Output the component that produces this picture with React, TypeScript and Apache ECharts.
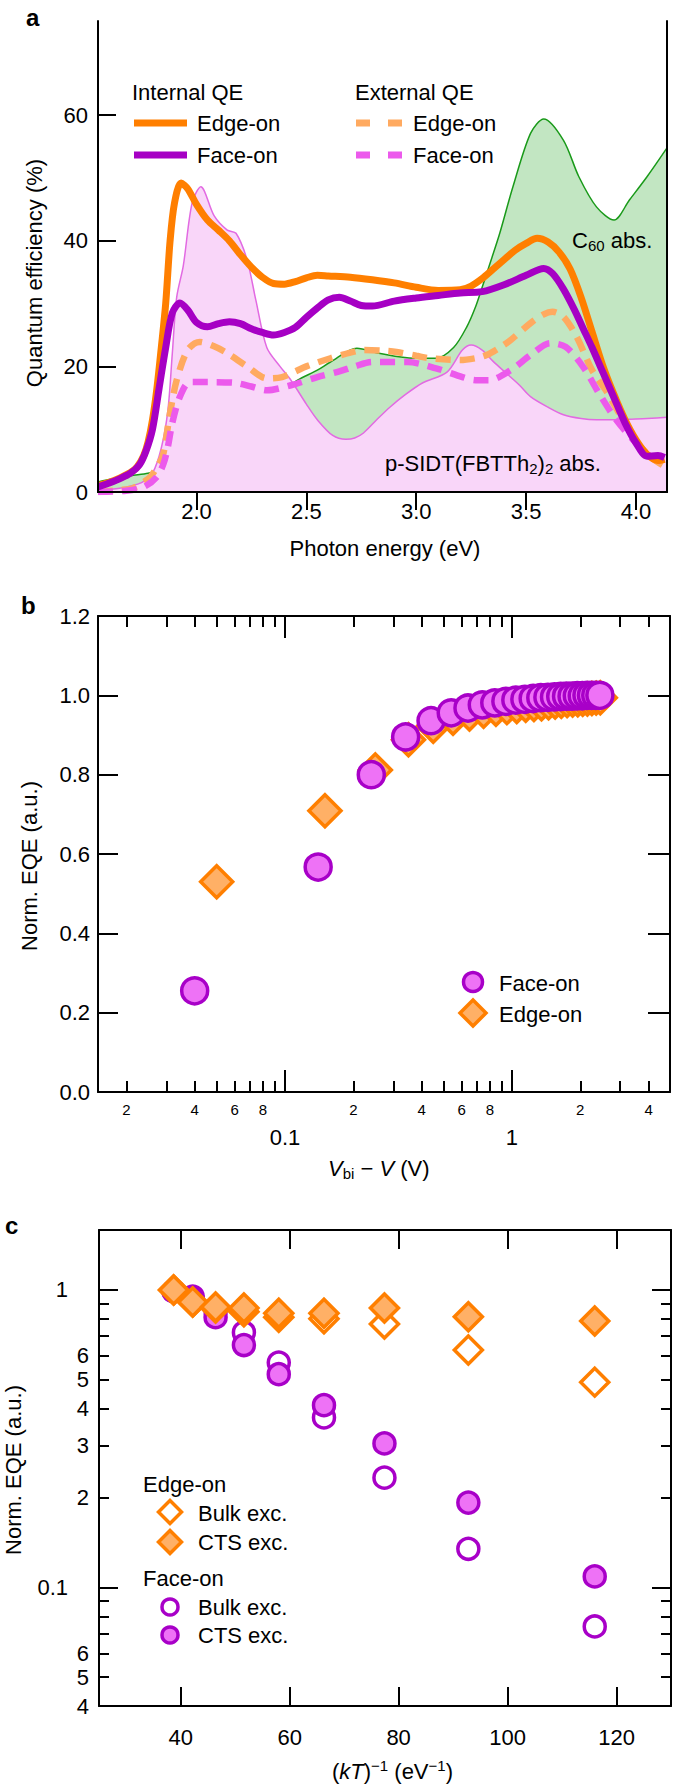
import React, { useEffect, useRef } from 'react';
import * as echarts from 'echarts';

const FONT = 'Liberation Sans, Arial, Helvetica, sans-serif';

// ---------------- Panel a : quantum efficiency vs photon energy ----------------
const energyTicks = [2.0, 2.5, 3.0, 3.5, 4.0];
const qeTicks = [0, 20, 40, 60];

const internalEdgeOn = [[1.552,1.0],[1.6,1.5],[1.65,2.2],[1.7,3.1],[1.73,4.0],[1.76,5.8],[1.78,8],[1.8,11.5],[1.82,16.5],[1.84,23],[1.86,30],[1.88,40],[1.9,46],[1.93,49.2],[1.96,48.3],[2.0,45.8],[2.05,43.3],[2.1,41.7],[2.15,40],[2.2,37.8],[2.25,35.8],[2.3,34.2],[2.35,33.2],[2.4,33.1],[2.45,33.5],[2.5,34.1],[2.55,34.5],[2.6,34.4],[2.7,34.2],[2.8,33.8],[2.9,33.3],[3.0,32.6],[3.1,32.1],[3.2,32.2],[3.25,32.8],[3.3,34],[3.35,35.5],[3.4,37],[3.45,38.5],[3.5,39.6],[3.55,40.4],[3.6,39.8],[3.65,38.2],[3.7,35.5],[3.75,31],[3.8,25.5],[3.85,20],[3.9,15.5],[3.95,11.5],[4.0,8.3],[4.05,6],[4.1,5],[4.13,5.2]];

const internalFaceOn = [[1.552,0.8],[1.6,1.4],[1.65,2.1],[1.7,3],[1.74,4.3],[1.77,6.5],[1.8,10],[1.83,16.5],[1.86,23],[1.89,28.5],[1.925,30.1],[1.96,29],[2.0,27],[2.05,26.3],[2.1,26.8],[2.15,27.1],[2.2,26.8],[2.25,26],[2.3,25.4],[2.35,25],[2.4,25.4],[2.45,26.2],[2.5,27.8],[2.55,29.3],[2.6,30.6],[2.65,31],[2.7,30.4],[2.75,29.7],[2.8,29.6],[2.9,30.4],[3.0,30.9],[3.1,31.3],[3.2,31.7],[3.3,31.9],[3.4,33],[3.5,34.5],[3.58,35.6],[3.62,34.8],[3.67,32.3],[3.72,29],[3.76,26],[3.8,23],[3.85,19],[3.9,15],[3.95,11],[4.0,7.8],[4.05,5.7],[4.1,5.8],[4.13,5.5]];

const externalEdgeOn = [[1.552,0],[1.65,0.3],[1.71,0.6],[1.76,1.6],[1.79,2.4],[1.83,4.5],[1.85,6.2],[1.88,12.6],[1.91,17.8],[1.96,22.6],[2.015,23.9],[2.08,23.2],[2.14,22.1],[2.23,20],[2.32,18.1],[2.39,18.3],[2.45,19.2],[2.5,20],[2.61,21.3],[2.7,22.2],[2.76,22.6],[2.85,22.5],[2.91,22.3],[3.0,21.7],[3.06,21.3],[3.2,21],[3.27,21.3],[3.32,21.8],[3.38,23],[3.43,24.2],[3.52,26.9],[3.58,28.3],[3.62,28.7],[3.67,27.9],[3.73,24.7],[3.8,19.4],[3.87,15.8],[3.94,11.5],[4.02,7.2],[4.08,5.2],[4.12,4.3]];

const externalFaceOn = [[1.552,0],[1.68,0.2],[1.76,0.8],[1.82,2.4],[1.85,4.5],[1.87,7.2],[1.89,11],[1.925,15.2],[1.97,17.5],[2.05,17.5],[2.17,17.4],[2.25,16.8],[2.32,16.2],[2.43,17],[2.55,18.3],[2.65,19.2],[2.72,20],[2.8,20.7],[2.96,20.7],[3.09,19.7],[3.21,18.3],[3.27,17.8],[3.33,17.8],[3.43,19.4],[3.52,21.8],[3.61,23.7],[3.68,23.1],[3.76,19.9],[3.83,15.8],[3.91,11.5],[4.0,7.8],[4.06,5.8],[4.12,4.8]];

const donorAbs = [[1.552,0.3],[1.65,0.6],[1.75,1.5],[1.8,3],[1.84,7],[1.87,13],[1.89,22],[1.91,31],[1.94,36],[1.98,46],[2.02,48.6],[2.08,44],[2.14,41.7],[2.18,41.2],[2.23,37],[2.27,30.6],[2.32,23],[2.38,20],[2.43,17.8],[2.5,14],[2.55,11.5],[2.62,9],[2.68,8.4],[2.72,8.6],[2.76,9.4],[2.82,11.5],[2.88,13.5],[2.95,15.5],[3.03,17.4],[3.14,19.1],[3.21,22.6],[3.25,23.4],[3.3,22.6],[3.35,20.8],[3.41,18.9],[3.47,17],[3.52,15.2],[3.6,13.5],[3.67,12.3],[3.75,11.7],[3.82,11.5],[3.9,11.5],[3.97,11.6],[4.05,11.7],[4.141,11.9]];

const c60Abs = [[1.552,1.6],[1.62,2.1],[1.7,2.6],[1.78,3.0],[1.85,3.6],[1.92,5.2],[2.0,7],[2.2,11.5],[2.35,15.2],[2.46,17.8],[2.55,19.4],[2.61,20.7],[2.73,22.9],[2.83,22.1],[2.99,21.3],[3.09,21.3],[3.17,23],[3.23,26.3],[3.27,29.5],[3.3,32.6],[3.33,35.8],[3.38,41.2],[3.44,48.6],[3.52,57.1],[3.58,59.4],[3.67,56],[3.74,50.2],[3.82,45.4],[3.9,43.3],[3.97,46.5],[4.05,50.2],[4.141,54.8]];

// ---------------- Panel b : normalized EQE vs Vbi - V ----------------
const faceOnV = [0.04,0.14,0.24,0.34,0.44,0.54,0.64,0.74,0.84,0.94,1.04,1.14,1.24,1.34,1.44,1.54,1.64,1.74,1.84,1.94,2.04,2.14,2.24,2.34,2.44];
const faceOnEQE = [0.255,0.567,0.80,0.895,0.936,0.956,0.968,0.976,0.981,0.985,0.988,0.990,0.992,0.994,0.995,0.996,0.997,0.998,0.998,0.999,0.999,1.0,1.0,1.0,1.0];
const edgeOnV = [0.05,0.15,0.25,0.35,0.45,0.55,0.65,0.75,0.85,0.95,1.05,1.15,1.25,1.35,1.45,1.55,1.65,1.75,1.85,1.95,2.05,2.15,2.25,2.35,2.45];
const edgeOnEQE = [0.53,0.709,0.812,0.888,0.922,0.942,0.953,0.96,0.965,0.969,0.972,0.975,0.977,0.979,0.981,0.983,0.985,0.987,0.988,0.989,0.990,0.991,0.992,0.993,0.994];
const bMinorTicks = [0.02,0.03,0.04,0.05,0.06,0.07,0.08,0.09,0.2,0.3,0.4,0.5,0.6,0.7,0.8,0.9,2,3,4];
const bMinorLabels = [0.02,0.04,0.06,0.08,0.2,0.4,0.6,0.8,2,4];
const bMajorTicks = [0.1, 1];
const bEqeTicks = [0, 0.2, 0.4, 0.6, 0.8, 1.0, 1.2];

// ---------------- Panel c : normalized EQE vs (kT)^-1 ----------------
const invKT = [38.7, 42.2, 46.4, 51.6, 58.0, 66.3, 77.4, 92.8, 116.0];
const edgeBulk = [1.0, 0.91, 0.87, 0.845, 0.81, 0.80, 0.768, 0.628, 0.49];
const edgeCTS = [1.0, 0.911, 0.877, 0.87, 0.835, 0.835, 0.87, 0.813, 0.787];
const faceBulk = [0.99, 0.95, 0.85, 0.72, 0.57, 0.373, 0.234, 0.135, 0.074];
const faceCTS = [0.99, 0.93, 0.81, 0.653, 0.521, 0.41, 0.305, 0.193, 0.109];
const kTTicks = [40, 60, 80, 100, 120];
const cMinorTicks = [0.05,0.06,0.07,0.08,0.09,0.2,0.3,0.4,0.5,0.6,0.7,0.8,0.9];
const cMinorLabels = [0.04,0.05,0.06,0.2,0.3,0.4,0.5,0.6];
const cMajorTicks = [0.1, 1];

// ---------------- colours ----------------
const ORANGE = '#FF7F00';
const PURPLE = '#A600C4';
const ORANGE_LIGHT = '#FFAA60';
const MAGENTA = '#EC5AEC';
const PINK_FILL = '#F9D6F9';
const PINK_LINE = '#E26AE2';
const GREEN_FILL = '#C2E6C2';
const GREEN_LINE = '#1A9A1A';
const CIRCLE_FILL = '#EE72F6';
const CIRCLE_EDGE = '#A800C8';
const DIAMOND_FILL = '#FFB066';

const axLine = { show: true, lineStyle: { color: '#000', width: 2 } };
const noLine = { show: false };
const tick = (len: number, vals?: number[]) => {
  const t: any = { show: true, inside: true, length: len, lineStyle: { color: '#000', width: 2 } };
  if (vals) t.customValues = vals;
  return t;
};
const lbl = (extra: any) => ({ color: '#000', fontSize: 22, fontFamily: FONT, showMinLabel: true, showMaxLabel: true, ...extra });
const noLbl = { show: false };
const noSplit = { show: false };
const leadDigit = (v: number) => String(Math.round(v / Math.pow(10, Math.floor(Math.log10(v) + 1e-9))));
const majorLbl = (v: number) => (v < 0.5 ? '0.1' : '1');

const txt = (x: number, y: number, text: string, extra: any = {}) => ({
  type: 'text', x, y, z: 100,
  style: { text, fontSize: 22, fontFamily: FONT, fill: '#000', align: 'left', textAlign: 'left', verticalAlign: 'middle', textVerticalAlign: 'middle', ...extra },
});
const rich = (x: number, y: number, text: string, extra: any = {}) => ({
  type: 'text', x, y, z: 100,
  style: {
    text, fill: '#000', align: 'left', textAlign: 'left', verticalAlign: 'middle', textVerticalAlign: 'middle',
    rich: {
      n: { fontSize: 22, fontFamily: FONT, lineHeight: 26, verticalAlign: 'middle', fill: '#000', color: '#000' },
      i: { fontSize: 22, fontFamily: FONT, fontStyle: 'italic', lineHeight: 26, verticalAlign: 'middle', fill: '#000', color: '#000' },
      sub: { fontSize: 15, fontFamily: FONT, lineHeight: 15, verticalAlign: 'bottom', fill: '#000', color: '#000' },
      sup: { fontSize: 15, fontFamily: FONT, lineHeight: 15, verticalAlign: 'top', fill: '#000', color: '#000' },
    },
    ...extra,
  },
});
const vtxt = (x: number, y: number, text: string) => ({
  type: 'text', x, y, z: 100, rotation: Math.PI / 2,
  style: { text, fontSize: 22, fontFamily: FONT, fill: '#000', align: 'center', textAlign: 'center', verticalAlign: 'middle', textVerticalAlign: 'middle' },
});
const legLine = (x1: number, x2: number, y: number, color: string, dash?: number[]) => ({
  type: 'line', z: 100, shape: { x1, y1: y, x2, y2: y },
  style: { stroke: color, lineWidth: 7, lineDash: dash || null, lineCap: 'butt' },
});
const legCircle = (cx: number, cy: number, r: number, fill: string) => ({
  type: 'circle', z: 100, shape: { cx, cy, r }, style: { fill, stroke: CIRCLE_EDGE, lineWidth: 3.5 },
});
const legDiamond = (cx: number, cy: number, h: number, fill: string) => ({
  type: 'polygon', z: 100, shape: { points: [[cx, cy - h], [cx + h, cy], [cx, cy + h], [cx - h, cy]] },
  style: { fill, stroke: ORANGE, lineWidth: 3.5, lineJoin: 'miter' },
});

const zip = (xs: number[], ys: number[]) => xs.map((x, i) => [x, ys[i]]);

const option: any = {
  animation: false,
  backgroundColor: '#fff',
  grid: [
    { left: 98, top: 21, width: 569, height: 471 },
    { left: 98, top: 616, width: 572, height: 476 },
    { left: 99, top: 1230, width: 572, height: 476 },
  ],
  xAxis: [
    { gridIndex: 0, type: 'value', position: 'bottom', min: 1.552, max: 4.141, z: 10, axisLine: axLine, axisTick: { show: false }, splitLine: noSplit,
      axisLabel: lbl({ customValues: energyTicks, formatter: (v: number) => v.toFixed(1), margin: 8 }) },
    { gridIndex: 0, type: 'value', position: 'top', min: 1.552, max: 4.141, z: 10, axisLine: axLine, axisTick: tick(18, energyTicks), axisLabel: noLbl, splitLine: noSplit },
    { gridIndex: 1, type: 'log', logBase: 10, position: 'bottom', min: 0.015, max: 4.97, z: 10, axisLine: axLine, axisTick: tick(11, bMinorTicks), splitLine: noSplit,
      axisLabel: lbl({ customValues: bMinorLabels, formatter: leadDigit, fontSize: 15, margin: 10 }) },
    { gridIndex: 1, type: 'log', logBase: 10, position: 'bottom', min: 0.015, max: 4.97, z: 10, axisLine: noLine, axisTick: tick(22, bMajorTicks), splitLine: noSplit,
      axisLabel: lbl({ customValues: bMajorTicks, formatter: majorLbl, margin: 34 }) },
    { gridIndex: 1, type: 'log', logBase: 10, position: 'top', min: 0.015, max: 4.97, z: 10, axisLine: axLine, axisTick: tick(11, bMinorTicks), axisLabel: noLbl, splitLine: noSplit },
    { gridIndex: 1, type: 'log', logBase: 10, position: 'top', min: 0.015, max: 4.97, z: 10, axisLine: noLine, axisTick: tick(22, bMajorTicks), axisLabel: noLbl, splitLine: noSplit },
    { gridIndex: 2, type: 'value', position: 'bottom', min: 25, max: 130, z: 10, axisLine: axLine, axisTick: tick(19, kTTicks), splitLine: noSplit,
      axisLabel: lbl({ customValues: kTTicks, margin: 20 }) },
    { gridIndex: 2, type: 'value', position: 'top', min: 25, max: 130, z: 10, axisLine: axLine, axisTick: tick(19, kTTicks), axisLabel: noLbl, splitLine: noSplit },
  ],
  yAxis: [
    { gridIndex: 0, type: 'value', position: 'left', min: 0, max: 75, z: 10, axisLine: axLine, axisTick: tick(18, qeTicks), splitLine: noSplit,
      axisLabel: lbl({ customValues: qeTicks, margin: 10 }) },
    { gridIndex: 0, type: 'value', position: 'right', min: 0, max: 75, z: 10, axisLine: axLine, axisTick: { show: false }, axisLabel: noLbl, splitLine: noSplit },
    { gridIndex: 1, type: 'value', position: 'left', min: 0, max: 1.2, z: 10, axisLine: axLine, axisTick: tick(20, bEqeTicks), splitLine: noSplit,
      axisLabel: lbl({ customValues: bEqeTicks, formatter: (v: number) => v.toFixed(1), margin: 8 }) },
    { gridIndex: 1, type: 'value', position: 'right', min: 0, max: 1.2, z: 10, axisLine: axLine, axisTick: tick(22, bEqeTicks), axisLabel: noLbl, splitLine: noSplit },
    { gridIndex: 2, type: 'log', logBase: 10, position: 'left', min: 0.04, max: 1.59, z: 10, axisLine: axLine, axisTick: tick(10, cMinorTicks), splitLine: noSplit,
      axisLabel: lbl({ customValues: cMinorLabels, formatter: leadDigit, margin: 10 }) },
    { gridIndex: 2, type: 'log', logBase: 10, position: 'left', min: 0.04, max: 1.59, z: 10, axisLine: noLine, axisTick: tick(19, cMajorTicks), splitLine: noSplit,
      axisLabel: lbl({ customValues: cMajorTicks, formatter: majorLbl, margin: 31 }) },
    { gridIndex: 2, type: 'log', logBase: 10, position: 'right', min: 0.04, max: 1.59, z: 10, axisLine: axLine, axisTick: tick(10, cMinorTicks), axisLabel: noLbl, splitLine: noSplit },
    { gridIndex: 2, type: 'log', logBase: 10, position: 'right', min: 0.04, max: 1.59, z: 10, axisLine: noLine, axisTick: tick(19, cMajorTicks), axisLabel: noLbl, splitLine: noSplit },
  ],
  series: [
    // panel a
    { name: 'C60 abs.', type: 'line', xAxisIndex: 0, yAxisIndex: 0, data: c60Abs, smooth: 0.3, symbol: 'none', z: 2,
      lineStyle: { color: GREEN_LINE, width: 1.5 }, areaStyle: { color: GREEN_FILL, opacity: 1 } },
    { name: 'p-SIDT abs.', type: 'line', xAxisIndex: 0, yAxisIndex: 0, data: donorAbs, smooth: 0.3, symbol: 'none', z: 3,
      lineStyle: { color: PINK_LINE, width: 1.5 }, areaStyle: { color: PINK_FILL, opacity: 1 } },
    { name: 'External Edge-on', type: 'line', xAxisIndex: 0, yAxisIndex: 0, data: externalEdgeOn, smooth: 0.3, symbol: 'none', z: 4,
      lineStyle: { color: ORANGE_LIGHT, width: 6.5, type: [15, 9], cap: 'butt' } },
    { name: 'External Face-on', type: 'line', xAxisIndex: 0, yAxisIndex: 0, data: externalFaceOn, smooth: 0.3, symbol: 'none', z: 5,
      lineStyle: { color: MAGENTA, width: 6.5, type: [15, 9], cap: 'butt' } },
    { name: 'Internal Edge-on', type: 'line', xAxisIndex: 0, yAxisIndex: 0, data: internalEdgeOn, smooth: 0.3, symbol: 'none', z: 6,
      lineStyle: { color: ORANGE, width: 7 } },
    { name: 'Internal Face-on', type: 'line', xAxisIndex: 0, yAxisIndex: 0, data: internalFaceOn, smooth: 0.3, symbol: 'none', z: 7,
      lineStyle: { color: PURPLE, width: 7 } },
    // panel b
    { name: 'Edge-on', type: 'scatter', xAxisIndex: 2, yAxisIndex: 2, data: zip(edgeOnV, edgeOnEQE), symbol: 'diamond', symbolSize: 32, z: 3,
      itemStyle: { color: DIAMOND_FILL, borderColor: ORANGE, borderWidth: 3.5, opacity: 1 } },
    { name: 'Face-on', type: 'scatter', xAxisIndex: 2, yAxisIndex: 2, data: zip(faceOnV, faceOnEQE), symbol: 'circle', symbolSize: 26, z: 4,
      itemStyle: { color: CIRCLE_FILL, borderColor: CIRCLE_EDGE, borderWidth: 3.5, opacity: 1 } },
    // panel c
    { name: 'Face-on Bulk exc.', type: 'scatter', xAxisIndex: 6, yAxisIndex: 4, data: zip(invKT, faceBulk), symbol: 'circle', symbolSize: 21, z: 3,
      itemStyle: { color: '#fff', borderColor: CIRCLE_EDGE, borderWidth: 3.5, opacity: 1 } },
    { name: 'Face-on CTS exc.', type: 'scatter', xAxisIndex: 6, yAxisIndex: 4, data: zip(invKT, faceCTS), symbol: 'circle', symbolSize: 21, z: 4,
      itemStyle: { color: CIRCLE_FILL, borderColor: CIRCLE_EDGE, borderWidth: 3.5, opacity: 1 } },
    { name: 'Edge-on Bulk exc.', type: 'scatter', xAxisIndex: 6, yAxisIndex: 4, data: zip(invKT, edgeBulk), symbol: 'diamond', symbolSize: 28, z: 5,
      itemStyle: { color: '#fff', borderColor: ORANGE, borderWidth: 3.5, opacity: 1 } },
    { name: 'Edge-on CTS exc.', type: 'scatter', xAxisIndex: 6, yAxisIndex: 4, data: zip(invKT, edgeCTS), symbol: 'diamond', symbolSize: 28, z: 6,
      itemStyle: { color: DIAMOND_FILL, borderColor: ORANGE, borderWidth: 3.5, opacity: 1 } },
  ],
  graphic: [
    // panel letters
    txt(26, 17, 'a', { fontWeight: 'bold', fontSize: 24 }),
    txt(21, 605, 'b', { fontWeight: 'bold', fontSize: 24 }),
    txt(5, 1225, 'c', { fontWeight: 'bold', fontSize: 24 }),
    // panel a axis names
    vtxt(34, 273, 'Quantum efficiency (%)'),
    txt(385, 548, 'Photon energy (eV)', { align: 'center', textAlign: 'center' }),
    // panel a legend
    txt(132, 92, 'Internal QE'),
    legLine(134, 187, 123, ORANGE),
    txt(197, 123, 'Edge-on'),
    legLine(134, 187, 155, PURPLE),
    txt(197, 155, 'Face-on'),
    txt(355, 92, 'External QE'),
    legLine(356, 402, 123, ORANGE_LIGHT, [14, 18]),
    txt(413, 123, 'Edge-on'),
    legLine(356, 402, 155, MAGENTA, [14, 18]),
    txt(413, 155, 'Face-on'),
    rich(572, 240, '{n|C}{sub|60}{n| abs.}'),
    rich(385, 463, '{n|p-SIDT(FBTTh}{sub|2}{n|)}{sub|2}{n| abs.}'),
    // panel b axis names + legend
    vtxt(29, 866, 'Norm. EQE (a.u.)'),
    rich(328, 1168, '{i|V}{sub|bi}{n| − }{i|V}{n| (V)}'),
    legCircle(473, 982, 9.5, CIRCLE_FILL),
    txt(499, 983, 'Face-on'),
    legDiamond(473, 1013, 13, DIAMOND_FILL),
    txt(499, 1014, 'Edge-on'),
    // panel c axis names + legend
    vtxt(13, 1470, 'Norm. EQE (a.u.)'),
    rich(332, 1771, '{n|(}{i|kT}{n|)}{sup|−1}{n| (eV}{sup|−1}{n|)}'),
    txt(143, 1484, 'Edge-on'),
    legDiamond(170, 1512, 11.5, '#fff'),
    txt(198, 1513, 'Bulk exc.'),
    legDiamond(170, 1542, 11.5, DIAMOND_FILL),
    txt(198, 1542, 'CTS exc.'),
    txt(143, 1578, 'Face-on'),
    legCircle(170, 1607, 8, '#fff'),
    txt(198, 1607, 'Bulk exc.'),
    legCircle(170, 1635, 8, CIRCLE_FILL),
    txt(198, 1635, 'CTS exc.'),
  ],
};

export default function App() {
  const ref = useRef<HTMLDivElement>(null);
  useEffect(() => {
    const chart = echarts.init(ref.current!, null, { renderer: 'svg' });
    chart.setOption(option);
    return () => chart.dispose();
  }, []);
  return <div ref={ref} style={{ position: 'absolute', left: 0, top: 0, width: 675, height: 1786, background: '#fff' }} />;
}
